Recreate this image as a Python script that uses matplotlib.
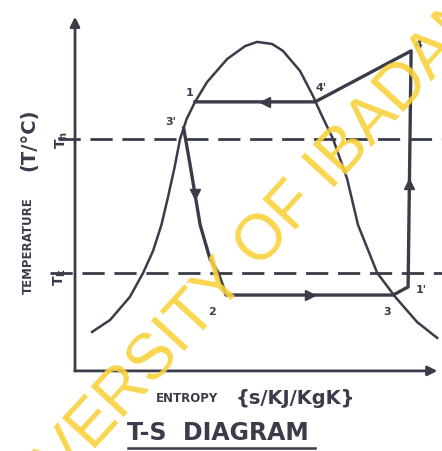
import numpy as np
import matplotlib
matplotlib.use("Agg")
import matplotlib.pyplot as plt

# saturation dome (entropy, temperature) in sketch units
dome_s = [0.57, 1.17, 1.83, 2.27, 2.60, 2.88, 3.10, 3.32, 3.50, 3.72, 4.00, 4.40, 5.07, 5.67, 6.07,
          6.57, 6.93, 7.50, 7.93, 8.17, 8.60, 9.07, 9.43, 10.07, 10.67, 11.40, 12.07]
dome_T = [1.30, 1.70, 2.47, 3.27, 4.00, 4.87, 5.80, 6.80, 7.73, 8.40, 8.97, 9.63, 10.40, 10.83, 10.97,
          10.90, 10.67, 10.00, 9.17, 8.63, 7.73, 6.40, 4.87, 3.27, 2.47, 1.63, 1.10]

# cycle path 1 -> 4' -> 4 -> 1' -> 3 -> 2 -> 3'
cyc_s = [4.00, 8.00, 11.20, 11.10, 10.60, 5.03, 4.77, 4.50, 4.17, 3.83, 3.62]
cyc_T = [8.97, 8.97, 10.67, 2.80, 2.53, 2.53, 3.27, 3.73, 4.87, 6.90, 8.10]

# direction arrows on the cycle
arr_s = [6.33, 7.83, 4.00, 11.13]
arr_T = [8.97, 2.53, 5.90, 6.23]
arr_m = ['<', '>', 'v', '^']

# state point labels
pt_lab = ['1', "3'", "4'", '4', "1'", '2', '3']
pt_s = [3.83, 3.20, 8.20, 11.45, 11.55, 4.55, 10.40]
pt_T = [9.30, 8.33, 9.45, 10.90, 2.73, 2.00, 2.00]

T_h = 7.73
T_k = 3.27

ink = '#3a3c4a'
lw = 2.0

fig = plt.figure(figsize=(4.42, 4.52), dpi=100)
ax = fig.add_axes([0, 0, 1, 1])
ax.set_xlim(-2.5, 12.23)
ax.set_ylim(-2.67, 12.4)
ax.axis('off')

# watermark
ax.text(5.1, 3.1, 'UNIVERSITY OF IBADAN', color='#f9d23c', fontsize=46,
        family='Liberation Sans', rotation=47.5, rotation_mode='anchor',
        ha='center', va='center', alpha=0.9, zorder=5, clip_on=True)

# axes arrows
ax.annotate('', xy=(0, 11.9), xytext=(0, -0.1),
            arrowprops=dict(arrowstyle='-|>', color=ink, lw=lw, mutation_scale=14))
ax.annotate('', xy=(12.17, 0), xytext=(-0.1, 0),
            arrowprops=dict(arrowstyle='-|>', color=ink, lw=lw, mutation_scale=14))

# T_h and T_k
ax.plot([-0.57, 12.23], [T_h, T_h], color=ink, lw=lw, dashes=(8, 3.5))
ax.plot([-0.83, 12.23], [T_k, T_k], color=ink, lw=lw, dashes=(8, 3.5))
ax.text(-0.45, T_h, '$\\mathbf{T_h}$', rotation=90, ha='center', va='center',
        fontsize=10, color=ink)
ax.text(-0.5, T_k - 0.1, '$\\mathbf{T_k}$', rotation=90, ha='center', va='center',
        fontsize=10, color=ink)

ax.plot(dome_s, dome_T, color=ink, lw=1.8)
ax.plot(cyc_s, cyc_T, color=ink, lw=lw + 0.4)
for s, T, m in zip(arr_s, arr_T, arr_m):
    ax.plot(s, T, marker=m, color=ink, markersize=7)
for lab, s, T in zip(pt_lab, pt_s, pt_T):
    ax.text(s, T, lab, fontsize=8, fontweight='bold', color=ink,
            ha='center', va='center')

# labels
ax.text(-1.55, 4.2, 'TEMPERATURE', rotation=90, fontsize=8.5, fontweight='bold',
        color=ink, ha='center', va='center')
ax.text(-1.55, 7.75, '(T/°C)', rotation=90, fontsize=14, fontweight='bold',
        color=ink, ha='center', va='center')
ax.text(4.78, -0.88, 'ENTROPY', fontsize=8.5, fontweight='bold', color=ink,
        ha='right', va='center')
ax.text(7.33, -0.88, '{s/KJ/KgK}', fontsize=14, fontweight='bold', color=ink,
        ha='center', va='center')
ax.text(4.77, -2.05, 'T-S  DIAGRAM', fontsize=17, fontweight='bold', color=ink,
        ha='center', va='center')
ax.plot([1.77, 8.0], [-2.57, -2.57], color=ink, lw=1.8)

fig.savefig('out.png', dpi=100)
